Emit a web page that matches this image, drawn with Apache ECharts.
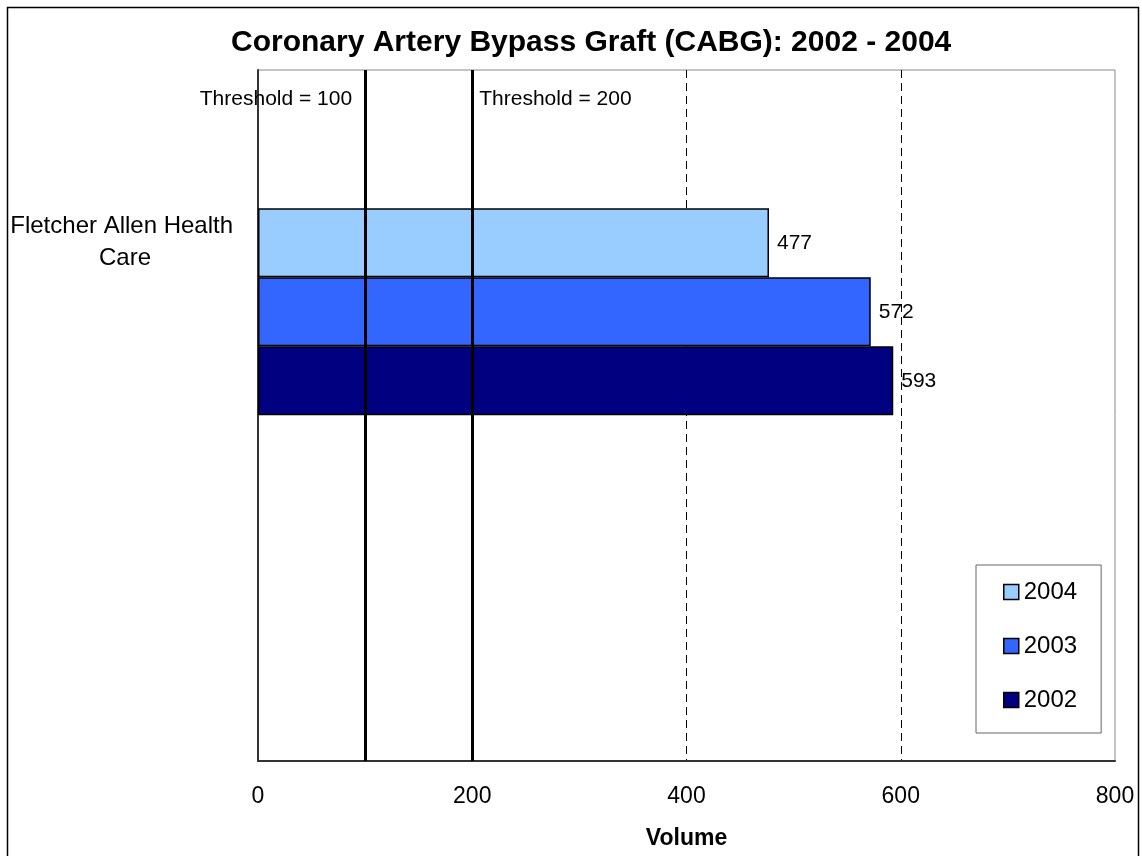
<!DOCTYPE html>
<html>
<head>
<meta charset="utf-8">
<script src="https://cdn.jsdelivr.net/npm/echarts@6/dist/echarts.min.js"></script>
<style>
  html, body { margin: 0; padding: 0; background: #fff; }
  #chart { width: 1142px; height: 856px; }
</style>
</head>
<body>
<div id="chart"></div>
<script>
// 数据
const hospitals = ['Fletcher Allen Health Care', ''];
const years = ['2004', '2003', '2002'];
const volumes = [477, 572, 593]; // 2004, 2003, 2002
const colors = ['#99CCFF', '#3366FF', '#000080'];
const thresholds = [100, 200];
const xTicks = [0, 200, 400, 600, 800];

// hidden slot axis used only to place the bar group
const slots = ['s0', 's1', 's2', 's3', 's4', 's5', 's6', 's7', 's8', 's9'];
const barSlot = 3;

const font = 'Liberation Sans, Arial, sans-serif';

let chart = echarts.init(document.getElementById('chart'));

let barSeries = years.map((y, i) => ({
    name: y,
    type: 'bar',
    yAxisIndex: 1,
    barWidth: 69,
    barGap: '0%',
    data: slots.map((s, k) => (k === barSlot ? volumes[i] : null)),
    itemStyle: { color: colors[i], borderColor: '#000', borderWidth: 1.5 },
    label: {
        show: true,
        position: 'right',
        distance: 8,
        color: '#000',
        fontSize: 21,
        fontFamily: font
    }
}));

// 门槛线 + 文字
let thresholdSeries = {
    name: 'threshold',
    type: 'scatter',
    yAxisIndex: 1,
    symbolSize: 0,
    itemStyle: { color: '#000', opacity: 1 },
    data: thresholds.map((t, i) => ({
        value: [t, 0],
        label: {
            show: true,
            position: i === 0 ? 'left' : 'right',
            distance: i === 0 ? 13 : 7,
            offset: [0, -5],
            formatter: 'Threshold = ' + t,
            color: '#000',
            fontSize: 21,
            fontFamily: font
        }
    })),
    markLine: {
        silent: true,
        symbol: 'none',
        label: { show: false },
        lineStyle: { color: '#000', width: 3, type: 'solid', opacity: 1 },
        data: thresholds.map(t => ({ xAxis: t }))
    },
    z: 5
};

let option = {
    animation: false,
    backgroundColor: '#fff',
    title: {
        text: 'Coronary Artery Bypass Graft (CABG): 2002 - 2004',
        left: 226,
        top: 23,
        textStyle: { fontSize: 30, fontWeight: 'bold', color: '#000', fontFamily: font }
    },
    legend: {
        orient: 'vertical',
        left: 976,
        top: 565,
        padding: [15, 24, 21, 27],
        itemGap: 30,
        itemWidth: 15,
        itemHeight: 15,
        icon: 'rect',
        borderColor: '#666',
        borderWidth: 1,
        backgroundColor: '#fff',
        data: years,
        itemStyle: { borderColor: '#000', borderWidth: 1.5 },
        textStyle: { fontSize: 24, color: '#000', fontFamily: font }
    },
    grid: {
        left: 258,
        right: 27,
        top: 70,
        bottom: 95,
        show: true,
        borderColor: '#888',
        borderWidth: 1,
        containLabel: false
    },
    xAxis: {
        type: 'value',
        min: xTicks[0],
        max: xTicks[xTicks.length - 1],
        interval: 200,
        name: 'Volume',
        nameLocation: 'middle',
        nameGap: 66,
        nameTextStyle: { fontSize: 23, fontWeight: 'bold', color: '#000', fontFamily: font },
        axisLine: { show: true, lineStyle: { color: '#333', width: 2 } },
        axisTick: { show: false },
        axisLabel: { fontSize: 23, color: '#000', margin: 24, fontFamily: font },
        splitLine: {
            show: true,
            showMinLine: false,
            showMaxLine: false,
            lineStyle: { color: '#000', width: 1, type: [8, 5] }
        }
    },
    yAxis: [
        {
            type: 'category',
            inverse: true,
            data: hospitals,
            axisLine: { show: true, lineStyle: { color: '#333', width: 2 } },
            axisTick: { show: false },
            axisLabel: {
                fontSize: 24,
                color: '#000',
                fontFamily: font,
                align: 'center',
                margin: 133,
                width: 235,
                overflow: 'break',
                lineHeight: 32
            },
            splitLine: { show: false }
        },
        {
            type: 'category',
            inverse: true,
            data: slots,
            show: false
        }
    ],
    graphic: [
        {
            type: 'rect',
            shape: { x: 7.5, y: 7.5, width: 1131, height: 870 },
            style: { fill: 'none', stroke: '#000', lineWidth: 1.5 },
            silent: true,
            z: 100
        }
    ],
    series: [...barSeries, thresholdSeries]
};

chart.setOption(option);
</script>
</body>
</html>
